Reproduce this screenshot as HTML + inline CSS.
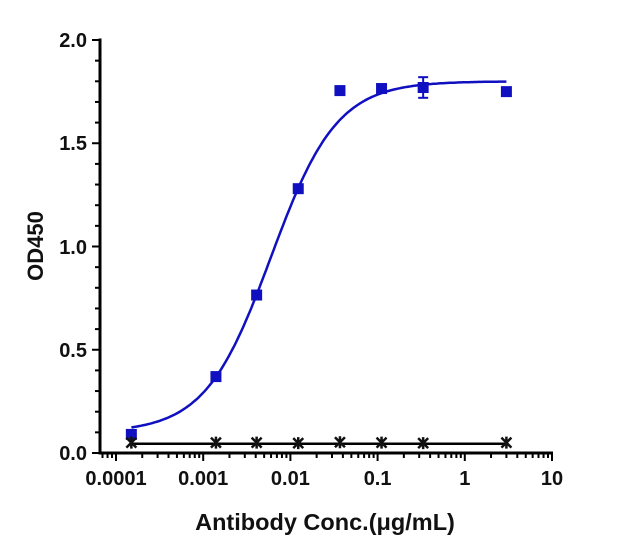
<!DOCTYPE html>
<html><head><style>body{margin:0;background:#fff}svg{display:block}text{font-family:"Liberation Sans",Arial,sans-serif;font-weight:bold;fill:#111}</style></head>
<body>
<svg id="s" width="627" height="555" viewBox="0 0 627 555" xmlns="http://www.w3.org/2000/svg">
<g stroke="#000" stroke-width="3" fill="none">
<line x1="100" y1="38.5" x2="100" y2="454.5"/>
<line x1="98.5" y1="453" x2="553" y2="453"/>
</g>
<g id="t" stroke="#000" stroke-width="2"></g>
<g font-size="20" text-anchor="end">
<text x="87" y="47">2.0</text><text x="87" y="150">1.5</text><text x="87" y="254">1.0</text><text x="87" y="357">0.5</text><text x="87" y="460">0.0</text>
</g>
<g font-size="20" text-anchor="middle" id="xl"></g>
<text font-size="22" transform="translate(43,246) rotate(-90)" text-anchor="middle">OD450</text>
<text font-size="23.5" x="325" y="530" text-anchor="middle">Antibody Conc.(μg/mL)</text>
<g id="d"></g>
</svg>
<script>
const X=v=>116+(Math.log10(v)+4)*87.2, Y=v=>453-v*206.5;
let t='',s=document.getElementById('t');
for(let i=0;i<=20;i++){let y=Y(i*0.1);t+=`<line x1="${i%5?95:92}" y1="${y}" x2="100" y2="${y}"/>`;}
for(let e=-5;e<=1;e++)for(let m=1;m<10;m++){let v=m*Math.pow(10,e);let x=X(v);if(x<100||x>553)continue;t+=`<line x1="${x}" y1="453" x2="${x}" y2="${m==1?461:458}"/>`;}
s.innerHTML=t;
let xl='';['0.0001','0.001','0.01','0.1','1','10'].forEach((l,i)=>{xl+=`<text x="${116+i*87.2}" y="485">${l}</text>`});
document.getElementById('xl').innerHTML=xl;
const xs=[0.00015,0.0014,0.0041,0.0123,0.037,0.111,0.333,3];
const ys=[0.09,0.37,0.765,1.28,1.755,1.765,1.77,1.75];
const ns=[0.05,0.05,0.05,0.048,0.052,0.05,0.048,0.05];
const f=v=>0.1+1.7/(1+Math.pow(0.006/v,1.15));
let p='';for(let i=0;i<=200;i++){let lv=Math.log10(0.00015)+i/200*(Math.log10(3)-Math.log10(0.00015));let v=Math.pow(10,lv);p+=(i?'L':'M')+X(v).toFixed(1)+','+Y(f(v)).toFixed(1);}
let d=`<path d="${p}" stroke="#1010c0" stroke-width="2.5" fill="none"/>`;
d+=`<line x1="${X(0.00015)}" y1="${Y(0.045)}" x2="${X(3)}" y2="${Y(0.045)}" stroke="#000" stroke-width="2.5"/>`;
d+=`<line x1="${X(0.333)}" y1="${Y(1.82)}" x2="${X(0.333)}" y2="${Y(1.72)}" stroke="#1010c0" stroke-width="2"/><line x1="${X(0.333)-5}" y1="${Y(1.82)}" x2="${X(0.333)+5}" y2="${Y(1.82)}" stroke="#1010c0" stroke-width="2"/><line x1="${X(0.333)-5}" y1="${Y(1.72)}" x2="${X(0.333)+5}" y2="${Y(1.72)}" stroke="#1010c0" stroke-width="2"/>`;
xs.forEach((v,i)=>{let x=X(v),y=Y(ys[i]);d+=`<rect x="${x-5.5}" y="${y-5.5}" width="11" height="11" fill="#1010c0"/>`;
let yn=Y(ns[i]);d+=`<path d="M${x-5},${yn-5}L${x+5},${yn+5}M${x+5},${yn-5}L${x-5},${yn+5}M${x},${yn-6}L${x},${yn+6}" stroke="#111" stroke-width="2.5"/>`;});
document.getElementById('d').innerHTML=d;
</script>
</body></html>
